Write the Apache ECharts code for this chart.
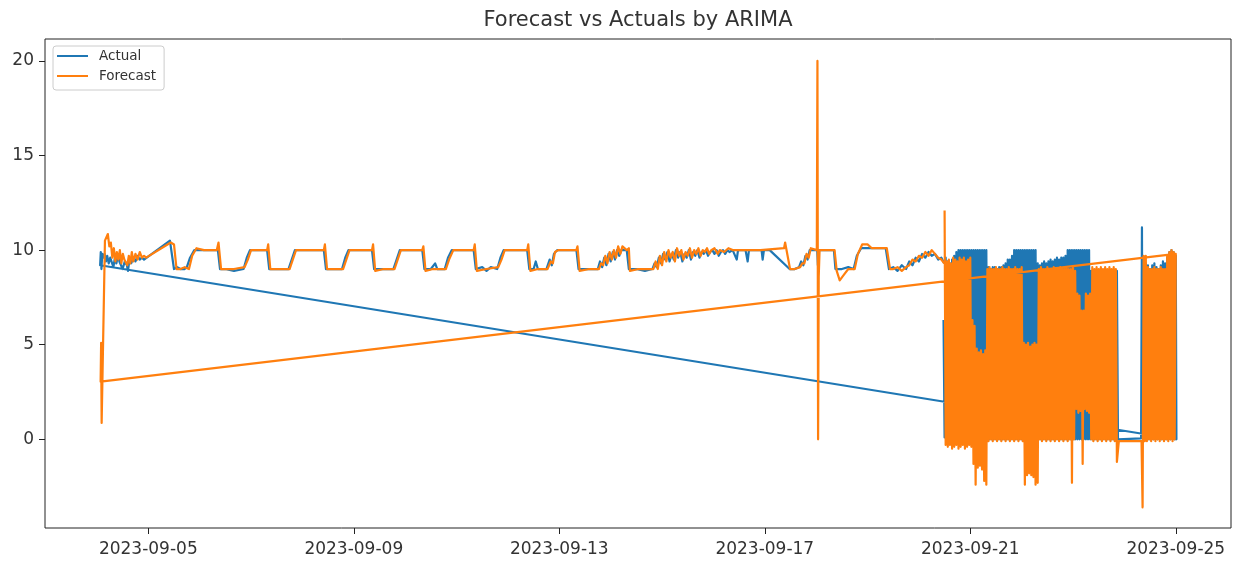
<!DOCTYPE html>
<html>
<head>
<meta charset="utf-8">
<title>Forecast vs Actuals by ARIMA</title>
<script src="https://cdn.jsdelivr.net/npm/echarts@6/dist/echarts.min.js"></script>
<style>
  html, body { margin: 0; padding: 0; background: #ffffff; }
  #chart { width: 1242px; height: 562px; }
</style>
</head>
<body>
<div id="chart"></div>
<script>
// The x axis is measured in hours from 2023-09-04 00:00.
const BASE_DATE = [2023, 9, 4];

const xTickLabels = ['2023-09-05', '2023-09-09', '2023-09-13', '2023-09-17', '2023-09-21', '2023-09-25'];
const yTickValues = [0, 5, 10, 15, 20];

// ---- Actual: 2023-09-04 .. 2023-09-20 noon, [hour, value] ----
const actualEarly = [
  [1.5, 9.2], [1.8, 9.9], [2.1, 9.0], [2.5, 9.8], [3.0, 9.6], [3.6, 9.8], [4.2, 9.4], [4.8, 9.7],
  [5.5, 9.3], [6.2, 9.6], [7.0, 9.5], [7.7, 9.1], [8.4, 9.6], [9.1, 9.3], [9.8, 9.7], [10.5, 9.4],
  [11.2, 9.5], [12.0, 9.0], [13.0, 9.4], [14.0, 9.2], [14.5, 8.9], [15.2, 9.5], [16.0, 9.3], [17.0, 9.6],
  [18.0, 9.4], [19.0, 9.7], [20.0, 9.5], [21.0, 9.6], [22.0, 9.5],
  [34.1, 10.5], [36.0, 9.0], [37.5, 9.1], [39, 9.0], [41, 9.0], [42, 9.1], [43.5, 9.6], [45.5, 10.0],
  [50, 10.0], [56.5, 10.0], [57.5, 9.0],
  [60, 9.0], [64, 8.9], [68.5, 9.0], [70, 9.6], [71.5, 10.0], [79.5, 10.0], [80.5, 9.0],
  [85, 9.0], [89.5, 9.0], [91, 9.5], [92.5, 10.0], [106, 10.0], [107, 9.0],
  [110, 9.0], [114.5, 9.0], [116, 9.6], [117.5, 10.0], [128.5, 10.0], [129.5, 9.0],
  [133, 9.0], [138.5, 9.0], [140, 9.5], [141.5, 10.0], [152, 10.0], [153, 9.0],
  [156, 9.0], [158, 9.3], [159, 9.0], [162.5, 9.0], [164, 9.6], [165.8, 10.0], [176, 10.0], [177, 9.0],
  [180, 9.1], [182, 8.9], [184, 9.1], [187, 9.0], [188.5, 9.6], [190, 10.0], [201, 10.0], [202, 9.0],
  [204, 9.0], [205, 9.4], [206, 9.0], [210, 9.0], [211.5, 9.5], [212.5, 9.2], [213.5, 9.8], [215, 10.0],
  [224, 10.0], [225, 9.0],
  [230, 9.0], [234, 9.0], [235, 9.4], [236, 9.1], [237, 9.6], [238, 9.2], [239, 9.8], [240, 9.4],
  [241, 9.9], [242, 9.5], [243, 10.0], [244, 9.7], [245, 10.0], [247.5, 10.0], [248.5, 9.0],
  [252, 9.0], [256, 8.9], [259.5, 9.0], [260.5, 9.3], [261.5, 9.1], [262.5, 9.6], [263.5, 9.3],
  [264.5, 9.8], [265.5, 9.5], [266.5, 9.9], [267.5, 9.4], [268.5, 9.8], [269.5, 9.5], [270.5, 10.0],
  [271.5, 9.6], [272.5, 9.9], [273.5, 9.4], [274.5, 9.8], [275.5, 9.6], [276.5, 10.0], [277.5, 9.5],
  [278.5, 9.9], [279.5, 9.7], [280.5, 10.0], [281.5, 9.6], [282.5, 9.9], [283.5, 9.8], [284.5, 10.0],
  [285.5, 9.7], [286.5, 9.9], [287.5, 10.0], [288.5, 9.8], [289.5, 10.0], [290.5, 9.7], [291.5, 9.9],
  [292.5, 10.0], [293.5, 9.8], [294.5, 10.0], [295.5, 9.9], [297, 10.0], [298.9, 9.5], [299.5, 10.0],
  [303, 10.0], [304, 9.4], [304.6, 10.0], [310.5, 10.0], [311, 9.5], [311.6, 10.0], [314.3, 10.0],
  [323.6, 9.0], [326, 9.0], [328, 9.1], [329, 9.4], [330, 9.2], [331, 9.7], [332, 9.5], [333, 10.0],
  [336.5, 10.0], [336.8, 9.2], [337.2, 10.0], [344.3, 10.0], [345, 9.0],
  [348, 9.0], [351, 9.1], [353.5, 9.0], [355, 9.7], [357, 10.1], [368.5, 10.1], [370, 9.0],
  [372, 9.1], [374, 8.9], [376, 9.2], [378, 9.0], [379.5, 9.4], [381, 9.2], [382.5, 9.6], [384, 9.4],
  [385.5, 9.8], [387, 9.6], [388.5, 9.9], [390, 9.7], [391.5, 9.8], [393, 9.5], [394.5, 9.6], [395.8, 9.3]
];

// ---- Forecast: 2023-09-04 .. 2023-09-20 noon, [hour, value] ----
const forecastEarly = [
  [1.73, 3.05], [1.96, 5.1], [2.2, 0.86], [3.74, 10.5], [5.1, 10.85], [5.8, 10.2], [6.5, 10.4],
  [7.2, 9.6], [7.9, 10.1], [8.6, 9.4], [9.3, 9.9], [10.0, 9.5], [10.7, 10.0], [11.4, 9.3], [12.1, 9.8],
  [12.8, 9.5], [13.5, 9.6], [14.2, 9.2], [14.9, 9.7], [15.6, 9.3], [16.3, 9.9], [17.0, 9.4], [18.0, 9.8],
  [19.0, 9.5], [20.0, 9.9], [21.0, 9.6], [22.0, 9.7], [23, 9.6],
  [34.5, 10.4], [36.0, 10.3], [37.2, 9.0], [39, 9.0], [41, 9.1], [43, 9.0], [44.5, 9.7], [46.5, 10.1],
  [50, 10.0], [56.0, 10.0], [56.8, 10.4], [58.0, 9.0],
  [60, 9.0], [64, 9.0], [69, 9.1], [70.5, 9.5], [72, 10.0], [79.5, 10.0], [80.0, 10.3], [81, 9.0],
  [85, 9.0], [90, 9.0], [91.5, 9.5], [93, 10.0], [106, 10.0], [106.5, 10.3], [107.5, 9.0],
  [110, 9.0], [115, 9.0], [116.5, 9.5], [118, 10.0], [128.5, 10.0], [129, 10.3], [130, 8.9],
  [134, 9.0], [139, 9.0], [140.5, 9.5], [142, 10.0], [152, 10.0], [152.5, 10.2], [153.5, 8.9],
  [157, 9.0], [163, 9.0], [164.5, 9.5], [166.5, 10.0], [176, 10.0], [176.5, 10.3], [177.5, 8.9],
  [182, 9.0], [187.5, 9.1], [189, 9.5], [190.5, 10.0], [201, 10.0], [201.5, 10.3], [202.5, 8.9],
  [206, 9.0], [210.5, 9.0], [212, 9.4], [213, 9.3], [214, 9.9], [215.5, 10.0], [224, 10.0], [224.5, 10.2],
  [225.5, 8.9],
  [230, 9.0], [234.5, 9.0], [235.5, 9.3], [236.5, 9.2], [237.5, 9.7], [238.5, 9.3], [239.5, 9.9],
  [240.5, 9.5], [241.5, 10.0], [242.5, 9.6], [243.5, 10.2], [244.5, 9.8], [245.5, 10.2], [247.5, 10.0],
  [248.5, 10.1], [249, 8.9],
  [253, 9.0], [256, 9.0], [260, 9.0], [261, 9.4], [262, 9.0], [263, 9.7], [264, 9.2], [265, 9.9],
  [266, 9.4], [267, 10.0], [268, 9.6], [269, 9.9], [270, 9.4], [271, 10.1], [272, 9.7], [273, 10.0],
  [274, 9.5], [275, 9.9], [276, 9.7], [277, 10.1], [278, 9.6], [279, 10.0], [280, 9.8], [281, 10.1],
  [282, 9.7], [283, 10.0], [284, 9.9], [285, 10.1], [286, 9.8], [287, 10.0], [288.5, 10.1], [290, 9.8],
  [291, 10.0], [293, 9.9], [295, 10.1], [297, 10.0], [300, 10.0], [310, 10.0], [321, 10.1], [321.5, 10.4],
  [323.8, 9.0],
  [326, 9.0], [328.5, 9.1], [329.5, 9.3], [330.5, 9.3], [331.5, 9.8], [332.5, 9.6], [333.5, 10.1],
  [336.3, 10.0], [336.6, 20.0], [336.9, 0.0], [337.2, 8.6], [337.6, 10.0], [344.6, 10.0], [345.6, 8.9],
  [347.0, 8.4], [349, 8.7], [351, 9.0], [354, 9.0], [355.5, 9.8], [357.5, 10.3], [360, 10.3], [362, 10.1],
  [369, 10.1], [370.5, 9.0],
  [372, 9.0], [374, 9.1], [376, 8.9], [378, 9.1], [379.5, 9.2], [381, 9.5], [382.5, 9.4], [384, 9.7],
  [385.5, 9.6], [387, 9.9], [388.5, 9.7], [390, 10.0], [391.5, 9.8], [393, 9.6], [394.5, 9.5], [395.8, 9.3]
];

// ---- 2023-09-20 noon .. 2023-09-25: half-hourly readings ----
const HALF_HOUR = 0.5;
const actualDense1Start = 395.5;
const actualDense1 = [
  6.3, 0.1, 9.6, 0.0, 9.4, 0.0, 9.3, 0.1, 9.5, 0.0, 9.7, 0.0, 9.9,
  0.0, 10.0, 0.0, 10.0, 0.0, 10.0, 0.0, 10.0, 0.0, 10.0, 0.0, 10.0, 0.0, 10.0,
  0.0, 10.0, 0.0, 10.0, 0.0, 10.0, 0.0, 10.0, 0.0, 10.0, 0.0, 10.0, 0.0, 10.0,
  0.0, 9.1, 0.0, 9.0, 0.0, 9.1, 0.0, 9.1, 0.0, 9.0, 0.0, 9.1, 0.0, 9.1, 0.0, 9.2, 0.0, 9.3, 0.0, 9.5, 0.0,
  9.5, 0.0, 9.7, 0.0,
  10.0, 0.0, 10.0, 0.0, 10.0, 0.0, 10.0, 0.0, 10.0, 0.0, 10.0, 0.0, 10.0, 0.0, 10.0, 0.0, 10.0, 0.0,
  10.0, 0.0, 10.0, 0.0,
  9.3, 0.0, 9.2, 0.0, 9.3, 0.0, 9.4, 0.0, 9.3, 0.0, 9.4, 0.0, 9.5, 0.0, 9.4, 0.0, 9.5, 0.0, 9.6, 0.0,
  9.5, 0.0, 9.6, 0.0, 9.6, 0.0, 9.7, 0.0,
  10.0, 0.0, 10.0, 0.0, 10.0, 0.0, 10.0, 0.0, 10.0, 0.0, 10.0, 0.0, 10.0, 0.0, 10.0, 0.0, 10.0, 0.0,
  10.0, 0.0, 10.0,
  0.0, 8.9, 0.0, 8.9, 0.0, 8.9, 0.0, 8.9, 0.0, 8.9, 0.0, 8.9, 0.0, 8.9, 0.0, 8.9, 0.0, 8.9, 0.0, 8.9,
  0.0, 8.9, 0.0, 8.9, 0.0, 8.9, 0.0
];
const actualGap = [[477.4, 0.0], [487.8, 0.05], [488.2, 11.2]];
const dense2Start = 488.5;
const actualDense2 = [
  0.2, 9.4, 0.0, 9.3, 0.0, 9.2, 0.0, 9.0, 0.0, 9.2, 0.0, 9.3, 0.0, 9.1, 0.0, 9.0,
  0.0, 9.2, 0.0, 9.4, 0.0, 9.3, 0.0, 9.6, 0.0, 9.9, 0.0, 10.0, 0.0, 9.9, 0.0, 9.7
];
const actualTail = [[504.3, 0.0]];

const forecastDense1Start = 396;
const forecastDense1 = [
  12.1, -0.3, 9.4, -0.4, 9.5, -0.3, 9.3, -0.5, 9.6, -0.4, 9.5, -0.3, 9.4, -0.5, 9.6, -0.4,
  9.5, -0.3, 9.6, -0.5, 9.4, -0.4, 9.5, -0.3, 9.6, -0.4,
  6.3, -1.3, 6.0, -2.4, 4.8, -1.5, 4.6, -1.4, 4.7, -1.6, 4.5, -2.2, 4.7, -2.4,
  9.0, -0.1, 9.1, 0.0, 9.0, -0.1, 9.0, 0.0, 9.1, -0.1, 9.0, 0.0, 9.0, -0.1, 9.1, 0.0, 9.0, -0.1,
  9.0, 0.0, 9.1, -0.1, 9.0, 0.0, 9.0, -0.1, 9.1, 0.0, 9.0, -0.1, 9.0, 0.0, 9.1, -0.1,
  5.1, -2.4, 5.0, -1.9, 5.1, -1.8, 4.9, -1.9, 5.0, -2.0, 5.1, -2.4, 5.0, -2.3,
  9.0, 0.0, 9.1, -0.1, 9.0, 0.0, 9.0, -0.1, 9.1, 0.0, 9.0, -0.1, 9.0, 0.0, 9.1, -0.1, 9.0, 0.0,
  9.0, -0.1, 9.1, 0.0, 9.0, -0.1, 9.0, 0.0, 9.1, -0.1, 9.0, 0.0, 9.0, -2.3, 9.1, 0.0, 8.9,
  1.6, 7.7, 1.4, 7.6, 1.5, 6.8, -1.3, 6.8, 1.6, 7.7, 1.5, 7.6, 1.4, 7.7,
  0.0, 9.1, -0.1, 9.0, 0.0, 9.1, -0.1, 9.0, 0.0, 9.1, -0.1, 9.0, 0.0, 9.1, -0.1, 9.0, 0.0, 9.1,
  -0.1, 9.0, 0.0, 9.1, -0.1, 9.0, -1.2
];
const forecastGap = [[477.4, -0.1], [488.0, -0.1]];
const forecastDense2 = [
  -3.6, 9.7, -0.1, 9.7, -0.1, 9.1, 0.0, 9.0, -0.1, 9.0, 0.0, 9.1, -0.1, 9.0, 0.0, 9.0,
  -0.1, 9.1, 0.0, 9.0, -0.1, 9.0, 0.0, 9.7, -0.1, 9.9, 0.0, 10.0, -0.1, 9.9, 0.0, 9.8
];

// Visible axis window.
const X_MIN_H = -24.26;
const X_MAX_H = 529.8;
const Y_MIN = -4.69;
const Y_MAX = 21.16;

const grid = (startH, values) => values.map((v, i) => [startH + i * HALF_HOUR, v]);

// Rows are stored with the late block first, followed by the early block.
const actualSeries = [
  ...grid(actualDense1Start, actualDense1),
  ...actualGap,
  ...grid(dense2Start, actualDense2),
  ...actualTail,
  ...actualEarly
];
const forecastSeries = [
  ...grid(forecastDense1Start, forecastDense1),
  ...forecastGap,
  ...grid(dense2Start, forecastDense2),
  ...forecastEarly
];

// Hour offset of each dated tick (calendar arithmetic in UTC, so no DST shifts).
const baseMs = Date.UTC(BASE_DATE[0], BASE_DATE[1] - 1, BASE_DATE[2]);
const xTickValues = xTickLabels.map(s => {
  const [y, m, d] = s.split('-').map(Number);
  return (Date.UTC(y, m - 1, d) - baseMs) / 3600000;
});

const FONT = 'DejaVu Sans';
const TEXT = '#333333';
const SPINE = '#222222';
const LINE_W = 2.2;

const chart = echarts.init(document.getElementById('chart'), null, { renderer: 'canvas' });
chart.setOption({
  animation: false,
  backgroundColor: '#ffffff',
  title: {
    text: 'Forecast vs Actuals by ARIMA',
    left: 633,
    top: 5,
    textAlign: 'center',
    textStyle: { fontFamily: FONT, fontSize: 21, fontWeight: 'normal', color: TEXT }
  },
  legend: {
    left: 53,
    top: 46,
    orient: 'vertical',
    icon: 'rect',
    itemWidth: 31,
    itemHeight: 2,
    itemGap: 6,
    padding: [3, 8, 7, 4],
    backgroundColor: 'rgba(255,255,255,0.8)',
    borderColor: '#cccccc',
    borderWidth: 1,
    borderRadius: 3,
    textStyle: { fontFamily: FONT, fontSize: 13.5, lineHeight: 14, color: TEXT, padding: [0, 0, 0, 6] },
    data: ['Actual', 'Forecast']
  },
  grid: {
    left: 45, right: 11, top: 39, bottom: 34,
    show: true, borderColor: SPINE, borderWidth: 1,
    containLabel: false
  },
  xAxis: {
    type: 'value',
    min: X_MIN_H,
    max: X_MAX_H,
    axisLine: { show: false, onZero: false },
    splitLine: { show: false },
    axisTick: { show: true, inside: false, length: 6, lineStyle: { color: SPINE, width: 1 }, customValues: xTickValues },
    axisLabel: {
      customValues: xTickValues,
      margin: 13,
      fontFamily: FONT, fontSize: 17, color: TEXT,
      formatter: val => {
        const k = xTickValues.findIndex(t => Math.abs(t - val) < 1e-6);
        return k >= 0 ? xTickLabels[k] : '';
      }
    }
  },
  yAxis: {
    type: 'value',
    min: Y_MIN,
    max: Y_MAX,
    axisLine: { show: false, onZero: false },
    splitLine: { show: false },
    axisTick: { show: true, inside: false, length: 6, lineStyle: { color: SPINE, width: 1 }, customValues: yTickValues },
    axisLabel: {
      customValues: yTickValues,
      margin: 11,
      fontFamily: FONT, fontSize: 17, color: TEXT,
      formatter: val => String(val)
    }
  },
  series: [
    {
      name: 'Actual',
      type: 'line',
      data: actualSeries,
      color: '#1f77b4',
      showSymbol: false,
      symbol: 'none',
      lineStyle: { width: LINE_W, color: '#1f77b4', join: 'round' },
      emphasis: { disabled: true }
    },
    {
      name: 'Forecast',
      type: 'line',
      data: forecastSeries,
      color: '#ff7f0e',
      showSymbol: false,
      symbol: 'none',
      lineStyle: { width: LINE_W, color: '#ff7f0e', join: 'round' },
      emphasis: { disabled: true }
    }
  ]
});
</script>
</body>
</html>
